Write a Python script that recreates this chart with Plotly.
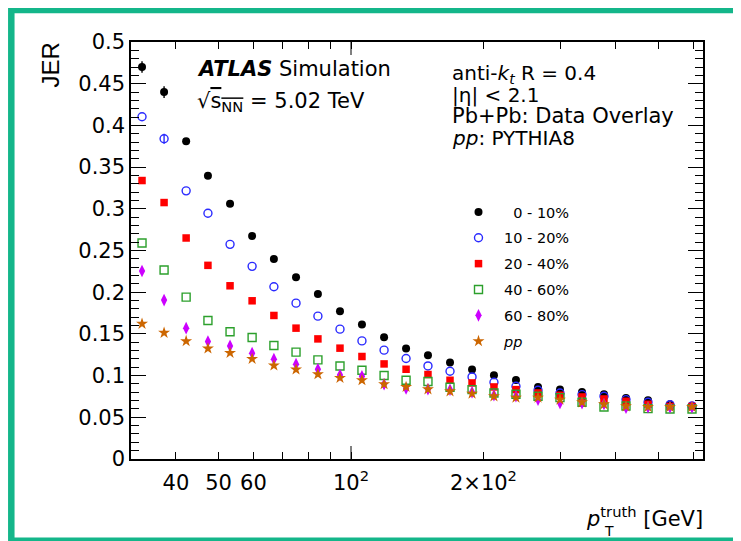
import plotly.graph_objects as go

# ---------------- data ----------------
pt_truth = [33.5, 37.6, 42.2, 47.3, 53.1, 59.6, 66.8, 75.0, 84.1, 94.4, 105.9, 118.9, 133.4,
            149.6, 167.9, 188.4, 211.3, 237.1, 266.1, 298.5, 335.0, 375.8, 421.7, 473.2, 530.9, 595.7]

jer_0_10 = [0.470, 0.440, 0.381, 0.3395, 0.306, 0.2674, 0.2398, 0.2178, 0.1977, 0.1773, 0.1613, 0.1461, 0.1325,
            0.1245, 0.1157, 0.1073, 0.1004, 0.0948, 0.0864, 0.0832, 0.0804, 0.0776, 0.0732, 0.0704, 0.0656, 0.0636]
err_0_10 = [0.007, 0.007, 0.003] + [0.0] * 23

jer_10_20 = [0.4104, 0.384, 0.3215, 0.2947, 0.2574, 0.231, 0.2065, 0.1869, 0.1713, 0.1557, 0.1416, 0.1305, 0.1205,
             0.1116, 0.1052, 0.0984, 0.0920, 0.0872, 0.0824, 0.0792, 0.0772, 0.0752, 0.0712, 0.0680, 0.0650, 0.0636]
err_10_20 = [0.0, 0.006] + [0.0] * 24

jer_20_40 = [0.3339, 0.3075, 0.265, 0.2322, 0.2077, 0.1897, 0.1721, 0.1569, 0.1440, 0.1329, 0.1229, 0.1140, 0.1076,
             0.1013, 0.0944, 0.0912, 0.0864, 0.0832, 0.0792, 0.0764, 0.0744, 0.0720, 0.0692, 0.0656, 0.0630, 0.0630]
err_20_40 = [0.0, 0.004] + [0.0] * 24

jer_40_60 = [0.259, 0.2266, 0.1941, 0.1661, 0.1525, 0.1457, 0.1361, 0.1281, 0.1188, 0.1116, 0.1064, 0.1001, 0.0944,
             0.0929, 0.0860, 0.0832, 0.0792, 0.0776, 0.0752, 0.0736, 0.0680, 0.0624, 0.0636, 0.0604, 0.0600, 0.0600]
err_40_60 = [0.0] * 26

jer_60_80 = [0.2254, 0.1905, 0.1569, 0.1409, 0.1356, 0.1269, 0.1197, 0.1137, 0.1076, 0.1008, 0.0992, 0.0896, 0.0845,
             0.0836, 0.0830, 0.0800, 0.0764, 0.0752, 0.0712, 0.0672, 0.0670, 0.0660, 0.0616, 0.0620, 0.0620, 0.0620]
err_60_80 = [0.004, 0.003, 0.002] + [0.0] * 23

jer_pp = [0.1621, 0.1513, 0.1413, 0.1325, 0.1272, 0.1200, 0.1121, 0.1073, 0.1016, 0.0972, 0.0944, 0.0896, 0.0864,
          0.0836, 0.0812, 0.0784, 0.0752, 0.0736, 0.0736, 0.0712, 0.0680, 0.0656, 0.0632, 0.0624, 0.0624, 0.0624]

series_names = ["\u00a0\u00a00 - 10%", "10 - 20%", "20 - 40%", "40 - 60%", "60 - 80%", "<i>pp</i>"]

x_tickvals = [40, 50, 60, 100, 200]
x_ticktext = ["40", "50", "60", "10<sup>2</sup>", "2\u00d710<sup>2</sup>"]
x_minorvals = [70, 80, 90, 300, 400, 500, 600]
long_tick_at = 100

FONT = "DejaVu Sans"

# ---------------- geometry ----------------
W, H = 741, 541
OFF = 8  # page body margin: the figure is drawn 8 px right/down in the window
# plot area in window pixels: x 131..703, y 42..459
L = 131 - OFF
T = 42 - OFF
R = W - (703 - OFF)
B = H - (459 - OFF)
pw, ph = W - L - R, H - T - B


def px(x):  # window pixel -> paper x
    return (x - OFF - L) / pw


def py(y):  # window pixel -> paper y
    return (H - B - (y - OFF)) / ph


fig = go.Figure()

styles = [
    (jer_0_10, err_0_10, dict(symbol="circle", size=8, color="#000000")),
    (jer_10_20, err_10_20, dict(symbol="circle-open", size=8, color="#2a2aff", line=dict(width=1.4, color="#2a2aff"))),
    (jer_20_40, err_20_40, dict(symbol="square", size=7.5, color="#ff0000")),
    (jer_40_60, err_40_60, dict(symbol="square-open", size=8, color="#2ca02c", line=dict(width=1.4, color="#2ca02c"))),
    (jer_60_80, err_60_80, dict(symbol="diamond-tall", size=9, color="#cc00ff")),
    (jer_pp, None, dict(symbol="star", size=9, color="#cc6600")),
]

for i, (name, (yv, ev, mk)) in enumerate(zip(series_names, styles)):
    col = mk["color"]
    fig.add_trace(go.Scatter(
        x=pt_truth, y=yv, mode="markers", name=name, legendgroup=f"g{i}",
        marker=mk,
        error_y=dict(type="data", array=ev, visible=ev is not None, thickness=1.4, width=0, color=col),
    ))

# long ticks at 10^2 (bottom and top)
for y0, y1 in [(0, 13 / ph), (1, 1 - 13 / ph)]:
    fig.add_shape(type="line", xref="x", yref="paper", x0=long_tick_at, x1=long_tick_at,
                  y0=y0, y1=y1, line=dict(color="black", width=1))

# green frame
fig.add_shape(type="rect", xref="paper", yref="paper", x0=px(11.3), x1=px(760), y0=py(10), y1=py(540.8),
              line=dict(color="#14b68a", width=6.5), fillcolor="rgba(0,0,0,0)")


def add_text(text, x, y, size, xanchor="left", yanchor="middle", angle=0, family=FONT):
    fig.add_annotation(text=text, x=px(x), y=py(y), xref="paper", yref="paper", showarrow=False,
                       xanchor=xanchor, yanchor=yanchor, textangle=angle,
                       font=dict(family=family, size=size, color="black"))


add_text("<b><i>ATLAS</i></b> Simulation", 195, 69, 21)
add_text("\u221a<span style='text-decoration:overline'>s<sub>NN</sub></span> = 5.02 TeV", 195, 102, 21)
add_text("anti-<i>k</i><sub><i>t</i></sub> R = 0.4", 450, 74, 20)
add_text("|\u03b7| &lt; 2.1", 450, 95, 20)
add_text("Pb+Pb: Data Overlay", 450, 116, 21)
add_text("<i>pp</i>: PYTHIA8", 450, 137.5, 20)
add_text("JER", 50, 41, 24, xanchor="center", yanchor="top", angle=-90, family="Liberation Sans")
add_text("<i>p</i><sup>truth</sup> [GeV]", 705, 517, 21, xanchor="right")
add_text("T", 609, 531, 14, xanchor="center")

fig.update_layout(
    width=W, height=H,
    margin=dict(l=L, r=R, t=T, b=B, pad=0),
    paper_bgcolor="white", plot_bgcolor="white",
    font=dict(family=FONT, size=21, color="black"),
    showlegend=True,
    legend=dict(x=px(453), y=py(196), xanchor="left", yanchor="top", bgcolor="rgba(0,0,0,0)",
                font=dict(family=FONT, size=14.5, color="black"), itemwidth=41, tracegroupgap=4,
                itemsizing="trace"),
    xaxis=dict(type="log", range=[1.5, 2.8], showgrid=False, zeroline=False,
               showline=True, linecolor="black", linewidth=1.5, mirror="allticks",
               ticks="inside", ticklen=7, tickwidth=1, tickcolor="black",
               tickmode="array", tickvals=x_tickvals, ticktext=x_ticktext,
               tickfont=dict(family=FONT, size=21), ticklabelstandoff=4,
               minor=dict(tickmode="array", tickvals=x_minorvals, ticks="inside", ticklen=7,
                          tickwidth=1, tickcolor="black", showgrid=False)),
    yaxis=dict(range=[0, 0.5], showgrid=False, zeroline=False,
               showline=True, linecolor="black", linewidth=1.5, mirror="allticks",
               ticks="inside", ticklen=15, tickwidth=1, tickcolor="black",
               tickmode="linear", tick0=0, dtick=0.05,
               tickfont=dict(family=FONT, size=21), ticklabelstandoff=0,
               minor=dict(dtick=0.01, ticks="inside", ticklen=8, tickwidth=1, tickcolor="black", showgrid=False)),
)

fig.write_html("out.html")
